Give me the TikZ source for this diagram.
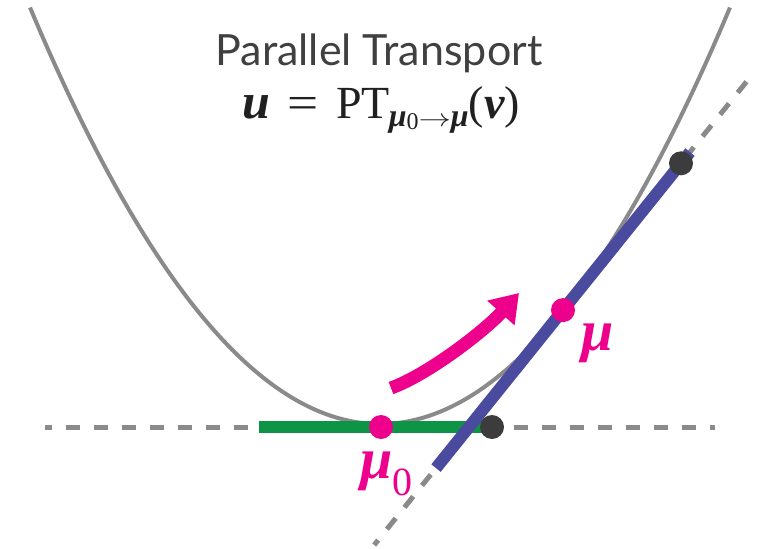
\documentclass[tikz,border=0pt]{standalone}
\usepackage{fontspec}
\setmainfont{Liberation Serif}
\newfontfamily\titlefont{Lato}
\usetikzlibrary{arrows.meta}
\definecolor{curvegray}{HTML}{8A8A8A}
\definecolor{dashgray}{HTML}{8A8A8A}
\definecolor{vgreen}{HTML}{0E9446}
\definecolor{ublue}{HTML}{4A4A9E}
\definecolor{mupink}{HTML}{EC008C}
\definecolor{dotblack}{HTML}{3C3C3C}
\definecolor{titlegray}{HTML}{404040}
\definecolor{formulablack}{HTML}{202020}
\newcommand{\bix}[1]{\textbf{\textit{#1}}}
\tikzset{
  dashedaxis/.style={draw=dashgray, line width=5pt, dash pattern=on 14pt off 14pt},
  manifold/.style={draw=curvegray, line width=4pt},
  vvec/.style={draw=vgreen, line width=12pt, line cap=butt},
  uvec/.style={draw=ublue, line width=12pt, line cap=butt},
  pinkdot/.style={circle, fill=mupink, inner sep=0pt, minimum size=24pt},
  blackdot/.style={circle, fill=dotblack, inner sep=0pt, minimum size=24pt},
  pinkarrow/.style={draw=mupink, line width=13pt, line cap=butt, -{Triangle[length=27pt,width=35pt]}},
  titlestyle/.style={text=titlegray, inner sep=0pt, font=\titlefont\fontsize{43}{43}\selectfont},
  formula/.style={text=formulablack, inner sep=0pt},
  mulabel/.style={text=mupink, inner sep=0pt}
}
\begin{document}
\begin{tikzpicture}[x=1pt,y=-1pt]
\useasboundingbox (0,0) rectangle (769,549);
% coordinates
\coordinate (hL) at (45,427);
\coordinate (hR) at (715,427);
\coordinate (dB) at (374.2,545);
\coordinate (dT) at (753.5,73);
\coordinate (gL) at (259,427);
\coordinate (gR) at (492,427);
\coordinate (bB) at (436,468.1);
\coordinate (bT) at (690,152.1);
\coordinate (uE) at (681,163.3);
\coordinate (m0) at (381,427);
\coordinate (m1) at (563,310.1);
\coordinate (arrS) at (391,388);
\coordinate (arrE) at (519,293);
% dashed lines
\draw[dashedaxis, dash phase=7pt] (hL) -- (hR);
\draw[dashedaxis, dash phase=7.7pt] (dB) -- (dT);
% curve
\draw[manifold] plot[domain=-3.5:3.5, samples=120, smooth] ({380+100*\x},{424-34*\x*\x});
% vectors
\draw[vvec] (gL) -- (gR);
\draw[uvec] (bB) -- (bT);
% dots
\node[blackdot] (vend) at (gR) {};
\node[blackdot] (uend) at (uE) {};
\node[pinkdot] (mu0) at (m0) {};
\node[pinkdot] (mu) at (m1) {};
% arrow
\draw[pinkarrow] (arrS) .. controls (428.6,374.4) and (485.5,330) .. (arrE);
% texts
\node[titlestyle, anchor=base] (title) at (379,65) {Parallel Transport};
\node[formula, anchor=base west] (ptf) at (242,118) {\fontsize{46}{46}\selectfont{\fontsize{50}{50}\selectfont\bix{u}}\hspace{17pt}\scalebox{1.2}[1]{=}\hspace{18pt}PT\kern-1pt\raisebox{-8pt}{\fontsize{32}{32}\selectfont\bix{μ}\raisebox{-3pt}{\fontsize{24}{24}\selectfont 0}\scalebox{1.3}[1]{$\rightarrow$}\bix{μ}}(\bix{v})};
\node[mulabel, anchor=base west] (mulab) at (581,350) {\fontsize{58}{58}\selectfont\bix{μ}};
\node[mulabel, anchor=base west] (mu0lab) at (360,478) {\fontsize{58}{58}\selectfont\bix{μ}\raisebox{-17pt}{\fontsize{40}{40}\selectfont 0}};
\end{tikzpicture}
\end{document}
